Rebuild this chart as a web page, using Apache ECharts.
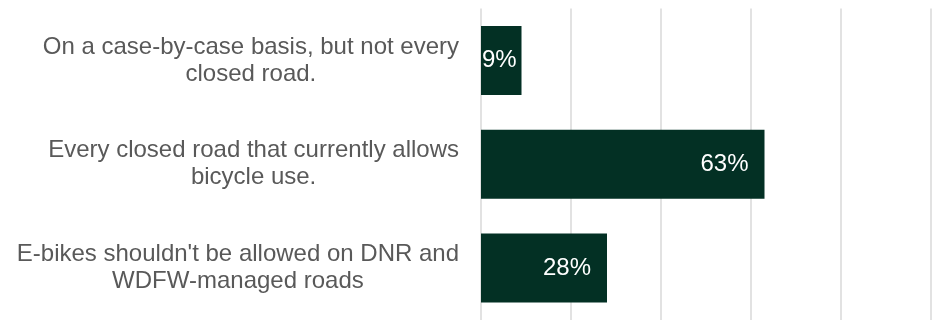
<!DOCTYPE html>
<html>
<head>
<meta charset="utf-8">
<script src="https://cdn.jsdelivr.net/npm/echarts@6/dist/echarts.min.js"></script>
<style>
  html, body { margin: 0; padding: 0; background: #fff; }
  #chart { width: 934px; height: 320px; }
</style>
</head>
<body>
<div id="chart"></div>
<script>
const categories = [
  'On a case-by-case basis, but not every\nclosed road.',
  'Every closed road that currently allows\nbicycle use.',
  "E-bikes shouldn't be allowed on DNR and\nWDFW-managed roads"
]
const values = [9, 63, 28]

const barColor = '#033024'

const chart = echarts.init(document.getElementById('chart'))
chart.setOption({
  animation: false,
  grid: {
    top: 8.5,
    bottom: -2,
    left: 481,
    right: 3
  },
  xAxis: {
    type: 'value',
    min: 0,
    max: 100,
    interval: 20,
    axisLine: { show: false },
    axisTick: { show: false },
    axisLabel: { show: false },
    splitLine: {
      lineStyle: { color: '#d9d9d9', width: 1.5 }
    }
  },
  yAxis: {
    type: 'category',
    inverse: true,
    data: categories,
    axisLine: { show: false },
    axisTick: { show: false },
    axisLabel: {
      margin: 22,
      fontFamily: 'Liberation Sans, Arial, sans-serif',
      fontSize: 24,
      lineHeight: 27,
      color: '#595959',
      // center each line inside the right-aligned block
      formatter: (v) => v.split('\n').map(l => '{c|' + l + '}').join('\n'),
      rich: {
        c: {
          align: 'center',
          fontFamily: 'Liberation Sans, Arial, sans-serif',
          fontSize: 24,
          lineHeight: 27,
          color: '#595959'
        }
      }
    }
  },
  series: [{
    type: 'bar',
    barWidth: '66.5%',
    itemStyle: { color: barColor },
    label: {
      show: true,
      position: 'insideRight',
      distance: 16,
      color: '#ffffff',
      fontFamily: 'Liberation Sans, Arial, sans-serif',
      fontSize: 24,
      formatter: '{c}%'
    },
    data: values.map((v, i) => i === 0
      ? { value: v, label: { position: 'insideLeft', distance: 1 } }
      : v)
  }]
})
</script>
</body>
</html>
